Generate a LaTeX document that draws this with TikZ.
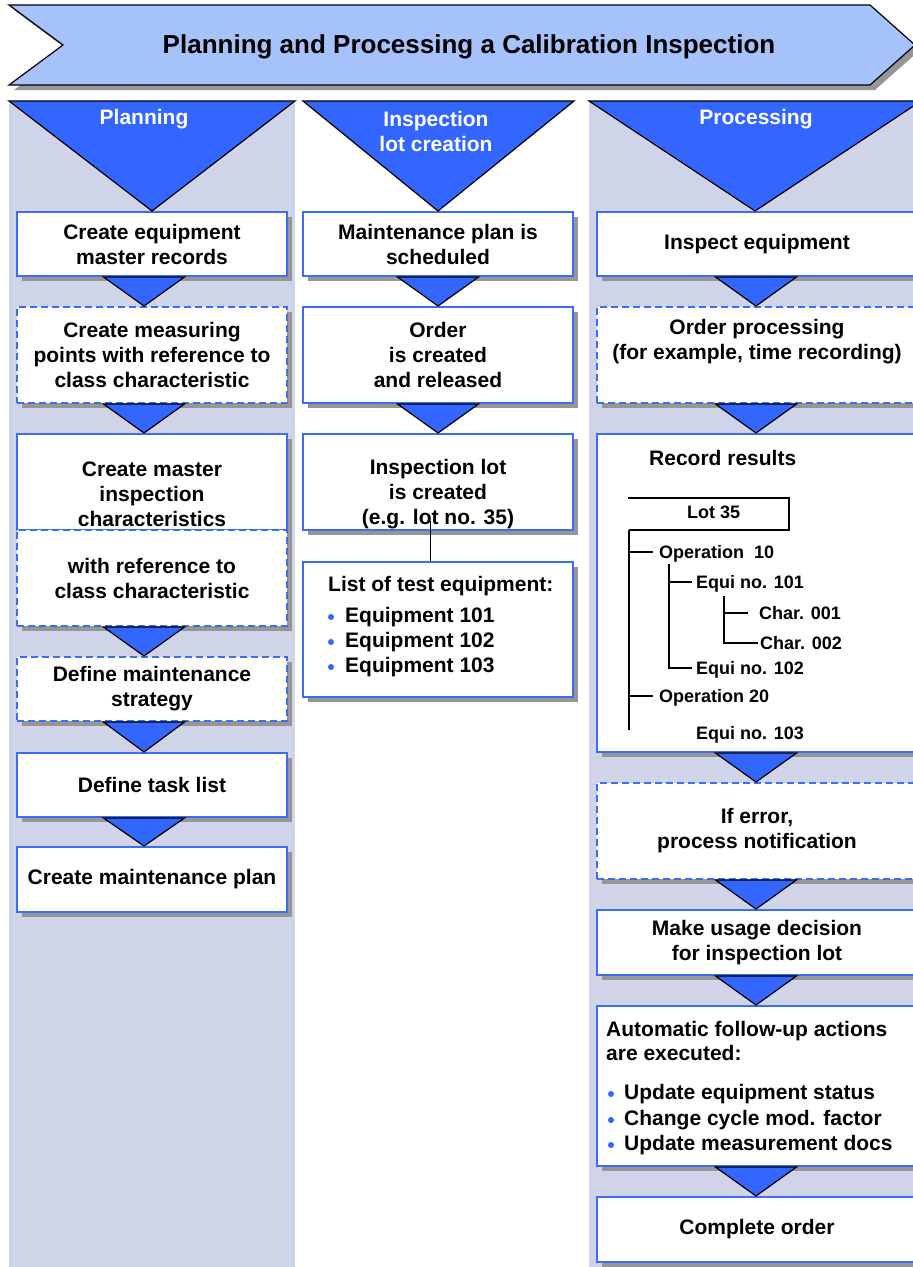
\documentclass[tikz,border=0pt]{standalone}
\usepackage{fontspec}
\setmainfont{Liberation Sans}
\usetikzlibrary{shadows}
\definecolor{headblue}{RGB}{166,194,250}
\definecolor{triblue}{RGB}{51,102,255}
\definecolor{boxblue}{RGB}{60,110,245}
\definecolor{colgray}{RGB}{208,212,232}
\definecolor{shadegray}{RGB}{150,150,150}
\begin{document}
\begin{tikzpicture}[x=1pt,y=-1pt]
        \tikzstyle{task}=[draw=boxblue,line width=2pt,fill=white,minimum width=270pt,minimum height=64pt,inner sep=0pt,align=center,font=\fontsize{21}{25}\selectfont\bfseries,drop shadow={shadow xshift=5pt,shadow yshift=-5pt,fill=shadegray,opacity=1}]
        \tikzstyle{opt}=[task,dash pattern=on 7pt off 4pt]
        \tikzstyle{wide}=[minimum width=320pt]
        \tikzstyle{flow}=[draw=black,line width=1.2pt,fill=triblue,line join=miter]
        \tikzstyle{txt}=[align=center,font=\fontsize{21}{25}\selectfont\bfseries]
        \tikzstyle{head}=[txt,text=white]
        \tikzstyle{item}=[anchor=west,inner sep=0pt,text height=15pt,text depth=0pt,font=\fontsize{21}{25}\selectfont\bfseries]
        \tikzstyle{leaf}=[anchor=west,inner sep=0pt,text height=13pt,text depth=0pt,font=\fontsize{18}{22}\selectfont\bfseries]
        \tikzstyle{branch}=[draw=black,line width=1.2pt]
        \tikzstyle{dot}=[fill=triblue]
        \useasboundingbox (0,0) rectangle (913,1267);
        \clip (0,0) rectangle (913,1267);

        % lanes
        \fill[colgray] (9,101) rectangle (295,1267);
        \fill[colgray] (589,101) rectangle (913,1267);

        % title arrow
        \draw[fill=headblue,line width=1.2pt,drop shadow={shadow xshift=5pt,shadow yshift=-5pt,fill=shadegray,opacity=1}]
          (9,5) -- (870,5) -- (915,45) -- (870,85) -- (9,85) -- (63,45) -- cycle;
        \node[txt,font=\fontsize{26}{30}\selectfont\bfseries,text height=19pt,text depth=0pt] (title) at (469,44) {Planning and Processing a Calibration Inspection};

        % planning
        \node [task] (equi) at (152,244) {Create equipment\\master records};
        \node [opt,minimum height=96pt] (mpoint) at (152,355) {Create measuring\\points with reference to\\class characteristic};
        \node [task,minimum height=96pt] (mic) at (152,482) {};
        \node [txt] (mictext) at (152,494) {Create master\\inspection\\characteristics};
        \node [opt,minimum height=96pt] (micref) at (152,578) {with reference to\\class characteristic};
        \node [opt] (strat) at (152,689) {Define maintenance\\strategy};
        \node [task] (tasklist) at (152,785) {Define task list};
        \node [task,minimum height=65pt] (mplan) at (152,879.5) {Create maintenance plan};

        % lot creation
        \node [task] (sched) at (438,244) {Maintenance plan is\\scheduled};
        \node [task,minimum height=96pt] (order) at (438,355) {Order\\is created\\and released};
        \node [task,minimum height=96pt] (lot) at (438,482) {};
        \node [txt] (lottext) at (438,494) {Inspection lot\\is created\\(e.g. lot no. 35)};
        \node [task,minimum height=135pt] (equip) at (438,629.5) {};
        \node [item] (eqtitle) at (328,584) {List of test equipment:};
        \node [item] (eq101) at (345,615) {Equipment 101};
        \node [item] (eq102) at (345,640) {Equipment 102};
        \node [item] (eq103) at (345,665) {Equipment 103};
        \fill[dot] (331,617) circle (3pt);
        \fill[dot] (331,642) circle (3pt);
        \fill[dot] (331,667) circle (3pt);
        \draw[branch,line width=1pt,shorten <=-10pt] ([xshift=-8pt]lot.south) -- ([xshift=-8pt]equip.north);

        % processing
        \node [task,wide] (insp) at (757,244) {Inspect equipment};
        \node [opt,wide,minimum height=96pt] (oproc) at (757,355) {};
        \node [txt] (oproctext) at (757,342) {Order processing\\(for example, time recording)};
        \node [task,wide,minimum height=318pt] (rec) at (757,593) {};
        \node [item] (rectitle) at (649,458) {Record results};
        \node [leaf] (lot35) at (687,511.5) {Lot 35};
        \node [leaf] (op10) at (659,552) {Operation\ \ 10};
        \node [leaf] (eqno101) at (696,582) {Equi no. 101};
        \node [leaf] (char1) at (759,613) {Char. 001};
        \node [leaf] (char2) at (760,643) {Char. 002};
        \node [leaf] (eqno102) at (696,668) {Equi no. 102};
        \node [leaf] (op20) at (659,696) {Operation 20};
        \node [leaf] (eqno103) at (696,733) {Equi no. 103};
        \coordinate (root) at (629,530);
        \coordinate (rootend) at (629,730);
        \coordinate (sub) at (669,564);
        \coordinate (subsub) at (724,596);
        \draw[branch] (628,498) -- (789,498) -- (789,530) -- (root);
        \draw[branch] (root) -- (rootend);
        \draw[branch] (root |- op10.west) -- ([xshift=-6pt]op10.west);
        \draw[branch] (root |- op20.west) -- ([xshift=-6pt]op20.west);
        \draw[branch] (sub) |- ([xshift=-4pt]eqno102.west);
        \draw[branch] (sub |- eqno101.west) -- ([xshift=-4pt]eqno101.west);
        \draw[branch] (subsub) |- ([xshift=-2pt]char2.west);
        \draw[branch] (subsub |- char1.west) -- ([xshift=-11pt]char1.west);
        \node [opt,wide,minimum height=96pt] (err) at (757,831) {If error,\\process notification};
        \node [task,wide,minimum height=65pt] (decide) at (757,942.5) {Make usage decision\\for inspection lot};
        \node [task,wide,minimum height=160pt] (follow) at (757,1086) {};
        \node [item] (fwtitle) at (606,1029) {Automatic follow-up actions};
        \node [item] (fwtitle2) at (606,1053) {are executed:};
        \node [item] (fw1) at (624,1092) {Update equipment status};
        \node [item] (fw2) at (624,1118) {Change cycle mod. factor};
        \node [item] (fw3) at (624,1143) {Update measurement docs};
        \fill[dot] (611,1094) circle (3pt);
        \fill[dot] (611,1120) circle (3pt);
        \fill[dot] (611,1145) circle (3pt);
        \node [task,wide,minimum height=65pt] (complete) at (757,1229.5) {Complete order};

        % lane heads
        \draw[flow] (9,101) -- (295,101) -- (equi.north) -- cycle;
        \draw[flow] (303,101) -- (574,101) -- (sched.north) -- cycle;
        \draw[flow] (589,101) -- (921,101) -- ([xshift=-2pt]insp.north) -- cycle;
        \node [head] (hplan) at (144,119) {Planning};
        \node [head] (hlot) at (436,131.5) {Inspection\\lot creation};
        \node [head] (hproc) at (756,119) {Processing};

        % flow triangles
        \draw[flow] ([xshift=-48.5pt]equi.south) -- ([xshift=32.5pt]equi.south) -- ([xshift=-8pt]mpoint.north) -- cycle;
        \draw[flow] ([xshift=-48.5pt]mpoint.south) -- ([xshift=32.5pt]mpoint.south) -- ([xshift=-8pt]mic.north) -- cycle;
        \draw[flow] ([xshift=-48.5pt]micref.south) -- ([xshift=32.5pt]micref.south) -- ([xshift=-8pt]strat.north) -- cycle;
        \draw[flow] ([xshift=-48.5pt]strat.south) -- ([xshift=32.5pt]strat.south) -- ([xshift=-8pt]tasklist.north) -- cycle;
        \draw[flow] ([xshift=-48.5pt]tasklist.south) -- ([xshift=32.5pt]tasklist.south) -- ([xshift=-8pt]mplan.north) -- cycle;
        \draw[flow] ([xshift=-40.5pt]sched.south) -- ([xshift=40.5pt]sched.south) -- (order.north) -- cycle;
        \draw[flow] ([xshift=-40.5pt]order.south) -- ([xshift=40.5pt]order.south) -- (lot.north) -- cycle;
        \draw[flow] ([xshift=-41.5pt]insp.south) -- ([xshift=39.5pt]insp.south) -- ([xshift=-1pt]oproc.north) -- cycle;
        \draw[flow] ([xshift=-41.5pt]oproc.south) -- ([xshift=39.5pt]oproc.south) -- ([xshift=-1pt]rec.north) -- cycle;
        \draw[flow] ([xshift=-41.5pt]rec.south) -- ([xshift=39.5pt]rec.south) -- ([xshift=-1pt]err.north) -- cycle;
        \draw[flow] ([xshift=-41.5pt]err.south) -- ([xshift=39.5pt]err.south) -- ([xshift=-1pt]decide.north) -- cycle;
        \draw[flow] ([xshift=-41.5pt]decide.south) -- ([xshift=39.5pt]decide.south) -- ([xshift=-1pt]follow.north) -- cycle;
        \draw[flow] ([xshift=-41.5pt]follow.south) -- ([xshift=39.5pt]follow.south) -- ([xshift=-1pt]complete.north) -- cycle;
\end{tikzpicture}
\end{document}
